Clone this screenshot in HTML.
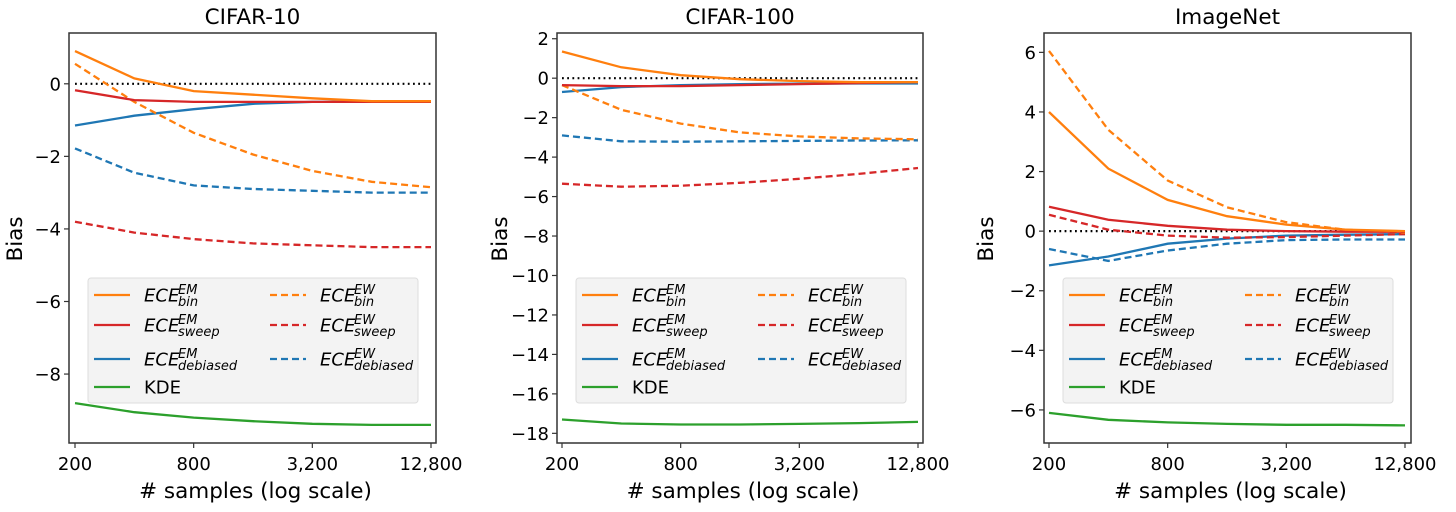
<!DOCTYPE html>
<html><head><meta charset="utf-8">
<style>
html,body{margin:0;padding:0;background:#fff;}
svg{display:block;font-family:"DejaVu Sans","Liberation Sans",sans-serif;}
</style></head>
<body>
<svg id="fig" width="1456" height="512" viewBox="0 0 1456 512"></svg>
<script>
const samples = [200, 400, 800, 1600, 3200, 6400, 12800];
const xTickValues = [200, 800, 3200, 12800];
const xTickLabels = ["200", "800", "3,200", "12,800"];
const panelTitles = ["CIFAR-10", "CIFAR-100", "ImageNet"];

const c10BinEM = [0.9, 0.15, -0.2, -0.3, -0.4, -0.48, -0.48];
const c10BinEW = [0.55, -0.5, -1.35, -1.95, -2.4, -2.7, -2.85];
const c10SweepEM = [-0.18, -0.45, -0.5, -0.5, -0.5, -0.5, -0.5];
const c10SweepEW = [-3.8, -4.1, -4.28, -4.4, -4.45, -4.5, -4.5];
const c10DebEM = [-1.15, -0.88, -0.7, -0.55, -0.5, -0.5, -0.5];
const c10DebEW = [-1.78, -2.45, -2.8, -2.9, -2.95, -3.0, -3.0];
const c10KDE = [-8.8, -9.05, -9.2, -9.3, -9.37, -9.4, -9.4];
const c10YTicks = [0, -2, -4, -6, -8];

const c100BinEM = [1.35, 0.55, 0.15, -0.05, -0.15, -0.2, -0.2];
const c100BinEW = [-0.35, -1.6, -2.3, -2.75, -2.95, -3.05, -3.1];
const c100SweepEM = [-0.35, -0.4, -0.4, -0.35, -0.3, -0.25, -0.2];
const c100SweepEW = [-5.35, -5.5, -5.45, -5.3, -5.1, -4.85, -4.55];
const c100DebEM = [-0.7, -0.45, -0.35, -0.3, -0.28, -0.27, -0.27];
const c100DebEW = [-2.9, -3.2, -3.22, -3.2, -3.18, -3.16, -3.15];
const c100KDE = [-17.3, -17.5, -17.55, -17.55, -17.52, -17.48, -17.42];
const c100YTicks = [2, 0, -2, -4, -6, -8, -10, -12, -14, -16, -18];

const inBinEM = [4.0, 2.1, 1.05, 0.5, 0.22, 0.05, 0.0];
const inBinEW = [6.05, 3.4, 1.7, 0.8, 0.3, 0.05, -0.05];
const inSweepEM = [0.82, 0.38, 0.18, 0.05, 0.0, -0.02, -0.02];
const inSweepEW = [0.55, 0.05, -0.15, -0.22, -0.2, -0.15, -0.1];
const inDebEM = [-1.15, -0.85, -0.42, -0.25, -0.15, -0.12, -0.1];
const inDebEW = [-0.6, -1.0, -0.65, -0.42, -0.3, -0.28, -0.28];
const inKDE = [-6.1, -6.33, -6.42, -6.47, -6.5, -6.5, -6.52];
const inYTicks = [6, 4, 2, 0, -2, -4, -6];

const NS = "http://www.w3.org/2000/svg";
const svg = document.getElementById("fig");
function mk(tag, attrs, parent, text){
  const e = document.createElementNS(NS, tag);
  for (const k in attrs) e.setAttribute(k, attrs[k]);
  if (text !== undefined) e.textContent = text;
  (parent||svg).appendChild(e);
  return e;
}
const ORANGE="#ff7f0e", RED="#d62728", BLUE="#1f77b4", GREEN="#2ca02c";

const panels = [
  {left:69, right:436, x0:75, x1:431, ymin:-9.9, ymax:1.4, ticks:c10YTicks, title:panelTitles[0],
   series:[c10BinEM,c10BinEW,c10SweepEM,c10SweepEW,c10DebEM,c10DebEW,c10KDE], key:"cifar10"},
  {left:557, right:923, x0:562, x1:918, ymin:-18.49, ymax:2.29, ticks:c100YTicks, title:panelTitles[1],
   series:[c100BinEM,c100BinEW,c100SweepEM,c100SweepEW,c100DebEM,c100DebEW,c100KDE], key:"cifar100"},
  {left:1044, right:1411, x0:1049, x1:1405, ymin:-7.11, ymax:6.65, ticks:inYTicks, title:panelTitles[2],
   series:[inBinEM,inBinEW,inSweepEM,inSweepEW,inDebEM,inDebEW,inKDE], key:"imagenet"}
];
const styles = [
  {c:ORANGE,d:null,n:"ece-bin-em"},{c:ORANGE,d:"7,4",n:"ece-bin-ew"},
  {c:RED,d:null,n:"ece-sweep-em"},{c:RED,d:"7,4",n:"ece-sweep-ew"},
  {c:BLUE,d:null,n:"ece-debiased-em"},{c:BLUE,d:"7,4",n:"ece-debiased-ew"},
  {c:GREEN,d:null,n:"kde"}
];
const TOP=33, BOT=443;
const drawOrder=[6,5,4,3,1,2,0];

panels.forEach(p=>{
  const g = mk("g",{});
  
  
  const lmin=Math.log(samples[0]), lmax=Math.log(samples[samples.length-1]);
  const xs = v => p.x0 + (Math.log(v)-lmin)/(lmax-lmin)*(p.x1-p.x0);
  const ys = v => TOP + (p.ymax - v)/(p.ymax-p.ymin)*(BOT-TOP);
  const cx=(p.left+p.right)/2;
  const t = mk("text",{x:cx,y:24,"text-anchor":"middle","font-size":21.5,fill:"#000"},g,p.title);
  
  
  const z = mk("line",{x1:p.x0,x2:p.x1,y1:ys(0),y2:ys(0),stroke:"#000","stroke-width":2.2,"stroke-dasharray":"1.8,3.4"},g);
  
  
  drawOrder.forEach(i=>{
    const arr=p.series[i], st=styles[i];
    const pts = arr.map((v,j)=>xs(samples[j]).toFixed(1)+","+ys(v).toFixed(1)).join(" ");
    const pl = mk("polyline",{points:pts,fill:"none",stroke:st.c,"stroke-width":2.3,"stroke-dasharray":st.d||"none"},g);
    
    
  });
  const fr = mk("rect",{x:p.left,y:TOP,width:p.right-p.left,height:BOT-TOP,fill:"none",stroke:"#333","stroke-width":1.5},g);
  
  
  xTickValues.forEach((v,i)=>{
    const x=xs(v);
    mk("line",{x1:x,x2:x,y1:BOT,y2:BOT+5,stroke:"#333","stroke-width":1.2},g);
    const tl = mk("text",{x:x,y:BOT+27,"text-anchor":"middle","font-size":18,fill:"#000"},g,xTickLabels[i]);
    
    
  });
  p.ticks.forEach(v=>{
    const y=ys(v);
    mk("line",{x1:p.left-5,x2:p.left,y1:y,y2:y,stroke:"#333","stroke-width":1.2},g);
    const tl = mk("text",{x:p.left-8,y:y+6.5,"text-anchor":"end","font-size":18,fill:"#000"},g,(v<0?"\u2212"+(-v):String(v)));
    
    
  });
  const xl = mk("text",{x:cx+3,y:498,"text-anchor":"middle","font-size":21.5,fill:"#000"},g,"# samples (log scale)");
  
  
  const ylx = p.key==="cifar10"?22:(p.key==="cifar100"?507:993);
  const yl = mk("text",{x:ylx,y:239,"text-anchor":"middle","font-size":21.5,fill:"#000",transform:`rotate(-90 ${ylx} 239)`},g,"Bias");
  
  
  const lx=p.left+19, ly=278;
  const lg = mk("g",{},g);
  
  
  mk("rect",{x:lx,y:ly,width:330,height:125,rx:3,fill:"#f2f2f2","fill-opacity":0.95,stroke:"#ddd","stroke-width":1},lg);
  const rows=[295,325,359,387];
  const entries=[
    {i:0,col:0,row:0,sub:"bin",sup:"EM"},{i:1,col:1,row:0,sub:"bin",sup:"EW"},
    {i:2,col:0,row:1,sub:"sweep",sup:"EM"},{i:3,col:1,row:1,sub:"sweep",sup:"EW"},
    {i:4,col:0,row:2,sub:"debiased",sup:"EM"},{i:5,col:1,row:2,sub:"debiased",sup:"EW"},
    {i:6,col:0,row:3,kde:true}
  ];
  entries.forEach(en=>{
    const st=styles[en.i];
    const bx = lx + (en.col===0?6:182);
    const y=rows[en.row];
    const eg = mk("g",{},lg);
    
    
    mk("line",{x1:bx,x2:bx+36,y1:y,y2:y,stroke:st.c,"stroke-width":2.3,"stroke-dasharray":st.d||"none"},eg);
    const tx=bx+50;
    if(en.kde){
      mk("text",{x:tx,y:y+6.5,"font-size":18,fill:"#000"},eg,"KDE");
    } else {
      mk("text",{x:tx,y:y+6.5,"font-size":18,"font-style":"italic",fill:"#000"},eg,"ECE");
      mk("text",{x:tx+34,y:y-1,"font-size":13,"font-style":"italic",fill:"#000"},eg,en.sup);
      mk("text",{x:tx+34,y:y+11,"font-size":13,"font-style":"italic",fill:"#000"},eg,en.sub);
    }
  });
});
</script>
</body></html>
